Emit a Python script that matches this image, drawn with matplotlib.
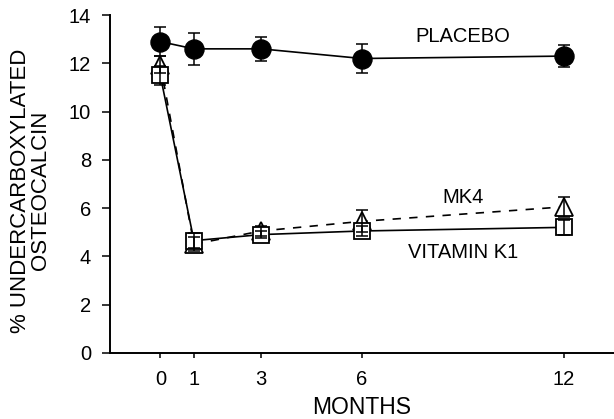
import numpy as np
import matplotlib.pyplot as plt

plt.rcParams['font.family'] = ['Liberation Sans', 'DejaVu Sans']

months = [0, 1, 3, 6, 12]

placebo = [12.9, 12.6, 12.6, 12.2, 12.3]
placebo_err = [0.6, 0.65, 0.5, 0.6, 0.45]

vit_k1 = [11.5, 4.65, 4.9, 5.05, 5.2]
vit_k1_err = [0.4, 0.3, 0.15, 0.2, 0.3]

mk4 = [11.95, 4.5, 5.05, 5.45, 6.05]
mk4_err = [0.35, 0.3, 0.2, 0.45, 0.4]

fig = plt.figure(figsize=(6.14, 4.19), dpi=100)
ax = fig.add_axes([0.179, 0.158, 0.821, 0.806])

lw = 1.2
# lines + markers first, error bars on top so the caps show through the open symbols
ax.plot(months, mk4, color='black', lw=lw, ls=(0, (5, 5)), marker='^',
        ms=12.5, mfc='white', mec='black', mew=1.3, zorder=3)
ax.plot(months, vit_k1, color='black', lw=lw, marker='s',
        ms=12.2, mfc='white', mec='black', mew=1.3, zorder=3)
ax.plot(months, placebo, color='black', lw=lw, marker='o',
        ms=13.7, mfc='black', mec='black', zorder=3)

for vals, errs in [(placebo, placebo_err), (vit_k1, vit_k1_err), (mk4, mk4_err)]:
    ax.errorbar(months, vals, yerr=errs, fmt='none', ecolor='black',
                elinewidth=1.1, capsize=4, capthick=1.1, zorder=4)

ax.text(9.0, 13.1, 'PLACEBO', ha='center', va='center', fontsize=14.5)
ax.text(9.0, 6.45, 'MK4', ha='center', va='center', fontsize=14.5)
ax.text(9.0, 4.15, 'VITAMIN K1', ha='center', va='center', fontsize=14.5)

ax.set_xlim(-1.5, 13.5)
ax.set_ylim(0, 14)
ax.set_xticks(months)
ax.set_yticks(np.arange(0, 15, 2))
ax.tick_params(axis='both', labelsize=14.5, width=1.1, direction='out')
ax.tick_params(axis='y', length=5.5, pad=8)
ax.tick_params(axis='x', length=3.5, pad=9)

for side in ['top', 'right']:
    ax.spines[side].set_visible(False)
for side in ['left', 'bottom']:
    ax.spines[side].set_linewidth(1.4)

ax.set_xlabel('MONTHS', fontsize=16.5, labelpad=5)
ax.set_ylabel('% UNDERCARBOXYLATED\nOSTEOCALCIN', fontsize=16,
              linespacing=0.9, labelpad=13)
ax.yaxis.label.set_y(0.48)

fig.savefig('out.png', dpi=100)
